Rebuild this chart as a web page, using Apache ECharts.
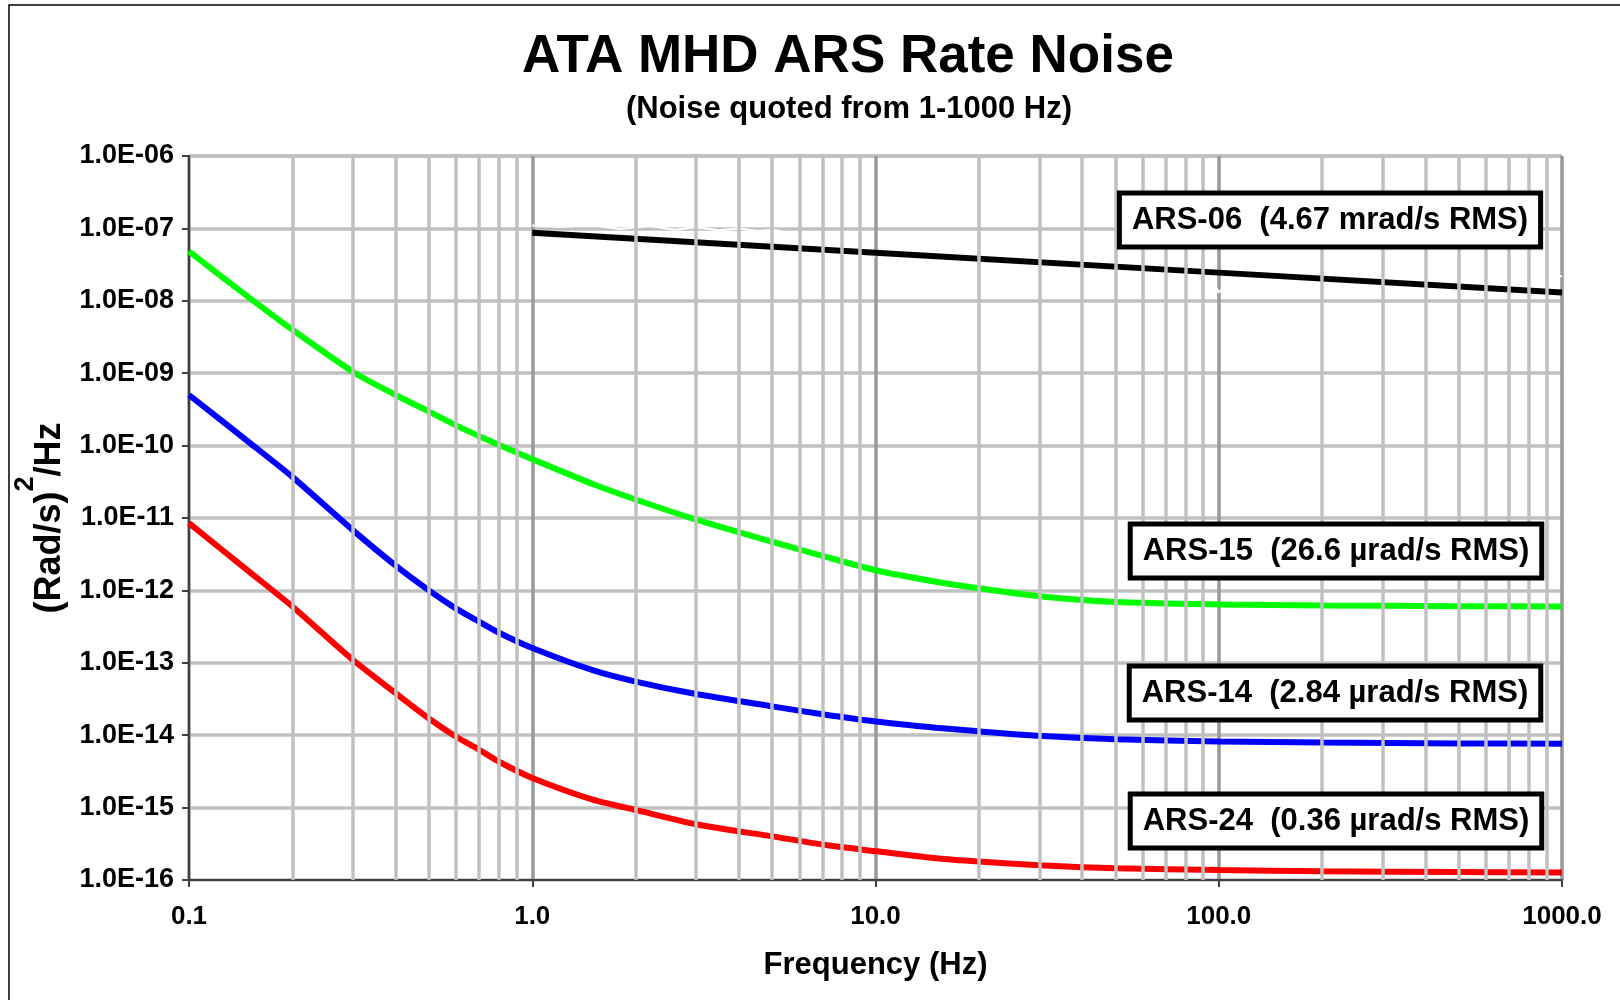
<!DOCTYPE html>
<html>
<head>
<meta charset="utf-8">
<title>ATA MHD ARS Rate Noise</title>
<script src="https://cdn.jsdelivr.net/npm/echarts@6/dist/echarts.min.js"></script>
<style>
  html, body { margin: 0; padding: 0; background: #fff; }
  #charts { width: 1620px; height: 1000px; }
</style>
</head>
<body>
<div id="charts"></div>
<script>
// frequencies (Hz)
const freq = [0.1, 0.15, 0.2, 0.3, 0.4, 0.5, 0.6, 0.7, 0.8, 1, 1.5, 2, 3, 5, 7, 10, 15, 20, 30, 50, 100, 200, 500, 1000];
const ars15 = [4.8e-8, 1.1e-8, 4.0e-9, 1.05e-9, 5.0e-10, 2.95e-10, 1.9e-10, 1.35e-10, 1.02e-10, 6.5e-11, 2.95e-11, 1.8e-11,
  9.5e-12, 4.7e-12, 3.0e-12, 1.9e-12, 1.32e-12, 1.07e-12, 8.3e-13, 6.9e-13, 6.4e-13, 6.2e-13, 6.05e-13, 6.0e-13];
const ars14 = [5.0e-10, 1.1e-10, 3.7e-11, 6.8e-12, 2.2e-12, 1.0e-12, 5.6e-13, 3.7e-13, 2.6e-13, 1.6e-13, 7.9e-14, 5.5e-14,
  3.7e-14, 2.5e-14, 1.95e-14, 1.55e-14, 1.27e-14, 1.13e-14, 9.8e-15, 8.8e-15, 8.2e-15, 7.9e-15, 7.7e-15, 7.6e-15];
const ars24 = [8.5e-12, 1.8e-12, 6.0e-13, 1.1e-13, 3.8e-14, 1.7e-14, 9.5e-15, 6.3e-15, 4.3e-15, 2.57e-15, 1.29e-15, 9.3e-16,
  5.9e-16, 4.0e-16, 3.1e-16, 2.5e-16, 2.0e-16, 1.8e-16, 1.6e-16, 1.45e-16, 1.37e-16, 1.32e-16, 1.29e-16, 1.27e-16];

const freq06 = [1, 10, 100, 1000];
const ars06 = [8.7e-8, 4.6e-8, 2.45e-8, 1.3e-8];

// raw measured trace (white, mostly hidden behind the grid)
const noiseFreq = [1, 1.2, 1.5, 1.8, 2.2, 2.6, 3, 3.5, 4, 4.5, 5, 5.5, 5.9, 6.3, 6.8, 7.3, 7.8, 8.4, 9, 9.6, 10,
  15, 20, 25, 30, 40, 50, 70, 96, 100, 110, 123, 150, 200, 250, 300, 400, 500, 600, 700, 800, 900, 1000];
const noiseVal = [1.1e-7, 1.05e-7, 1.1e-7, 9.8e-8, 1.08e-7, 9.6e-8, 1.04e-7, 9.4e-8, 1.0e-7, 9.2e-8, 9.6e-8, 8.8e-8,
  4.4e-8, 3.4e-8, 4.6e-8, 3.3e-8, 4.5e-8, 3.2e-8, 4.2e-8, 3.1e-8, 4.4e-8,
  3.0e-8, 2.7e-8, 3.1e-8, 2.6e-8, 2.9e-8, 2.5e-8, 2.8e-8, 1.9e-8, 1.3e-8, 2.1e-8, 1.6e-8, 2.0e-8, 1.85e-8, 1.6e-8,
  2.0e-8, 1.6e-8, 1.9e-8, 1.5e-8, 1.9e-8, 1.5e-8, 2.0e-8, 2.2e-8];

// minor vertical grid lines (2..9 of each decade)
const minorFreq = [];
[0.1, 1, 10, 100].forEach(function (d) {
  for (let k = 2; k <= 9; k++) minorFreq.push(+(d * k).toPrecision(3));
});

const labels = [
  { text: "ARS-06  (4.67 mrad/s RMS)", x: 1330, y: 220 },
  { text: "ARS-15  (26.6 µrad/s RMS)", x: 1336, y: 551 },
  { text: "ARS-14  (2.84 µrad/s RMS)", x: 1335, y: 693 },
  { text: "ARS-24  (0.36 µrad/s RMS)", x: 1336, y: 821 },
];

const FONT = '"Liberation Sans", Arial, sans-serif';

function pairs(xs, ys) {
  return xs.map(function (x, i) { return [x, ys[i]]; });
}

let myChart = echarts.init(document.getElementById("charts"), null, { renderer: "canvas" });

let option = {
  backgroundColor: "#fff",
  animation: false,
  textStyle: { fontFamily: FONT },
  grid: { left: 189, top: 156, right: 58, bottom: 120 },
  xAxis: {
    type: "log",
    logBase: 10,
    min: 0.1,
    max: 1000,
    interval: 1,
    name: "Frequency (Hz)",
    nameLocation: "middle",
    nameGap: 70,
    nameTextStyle: { fontSize: 31, fontWeight: "bold", color: "#000", fontFamily: FONT },
    axisLine: { show: true, lineStyle: { color: "#404040", width: 2 } },
    axisTick: { show: true, inside: false, length: 7, lineStyle: { color: "#404040", width: 2 } },
    axisLabel: {
      margin: 24,
      fontSize: 26,
      fontWeight: "bold",
      color: "#000",
      fontFamily: FONT,
      showMinLabel: true,
      showMaxLabel: true,
      formatter: function (v) { return Number(v).toFixed(1); },
    },
    splitLine: { show: true, lineStyle: { color: "#999999", width: 3.5 } },
  },
  yAxis: {
    type: "log",
    logBase: 10,
    min: 1e-16,
    max: 1e-6,
    interval: 1,
    name: "{a|(Rad/s)}{s|2}{a|/Hz}",
    nameLocation: "middle",
    nameRotate: 90,
    nameGap: 100,
    nameTextStyle: {
      color: "#000",
      rich: {
        a: { fontSize: 36, fontWeight: "bold", fontFamily: FONT, color: "#000", verticalAlign: "bottom", lineHeight: 56 },
        s: { fontSize: 27, fontWeight: "bold", fontFamily: FONT, color: "#000", verticalAlign: "top", lineHeight: 56 },
      },
    },
    axisLine: { show: true, lineStyle: { color: "#404040", width: 2 } },
    axisTick: { show: true, inside: false, length: 7, lineStyle: { color: "#404040", width: 2 } },
    axisLabel: {
      margin: 15,
      fontSize: 27,
      fontWeight: "bold",
      color: "#000",
      fontFamily: FONT,
      formatter: function (v) {
        let e = Math.round(Math.log10(v));
        return "1.0E" + (e < 0 ? "-" : "+") + String(Math.abs(e)).padStart(2, "0");
      },
    },
    splitLine: { show: true, lineStyle: { color: "#c0c0c0", width: 3.5 } },
  },
  graphic: [
    {
      type: "rect",
      silent: true,
      shape: { x: 9, y: 5, width: 1700, height: 1100 },
      style: { fill: null, stroke: "#000", lineWidth: 1.5 },
    },
    {
      type: "text",
      x: 848,
      y: 57,
      style: { text: "ATA MHD ARS Rate Noise", font: "bold 53px " + FONT, fill: "#000", align: "center", verticalAlign: "middle" },
    },
    {
      type: "text",
      x: 849,
      y: 109,
      style: { text: "(Noise quoted from 1-1000 Hz)", font: "bold 31px " + FONT, fill: "#000", align: "center", verticalAlign: "middle" },
    },
  ].concat(labels.map(function (l) {
    return {
      type: "text",
      x: l.x,
      y: l.y,
      z: 100,
      style: {
        text: l.text,
        font: "bold 31px " + FONT,
        fill: "#000",
        align: "center",
        verticalAlign: "middle",
        backgroundColor: "#fff",
        borderColor: "#000",
        borderWidth: 5,
        padding: [9, 10, 9, 10],
      },
    };
  })),
  series: [
    {
      // carries the minor grid lines
      type: "line",
      z: 1,
      data: [],
      silent: true,
      markLine: {
        silent: true,
        symbol: "none",
        animation: false,
        label: { show: false },
        lineStyle: { color: "#c0c0c0", width: 3.5, type: "solid" },
        data: minorFreq.map(function (f) { return { xAxis: f }; }),
      },
    },
    {
      name: "raw",
      type: "line",
      z: 2,
      data: pairs(noiseFreq, noiseVal),
      showSymbol: false,
      lineStyle: { color: "#ffffff", width: 2 },
    },
    {
      name: "ARS-06",
      type: "line",
      z: 3,
      data: pairs(freq06, ars06),
      showSymbol: false,
      lineStyle: { color: "#000000", width: 6 },
    },
    {
      name: "ARS-15",
      type: "line",
      z: 3,
      smooth: 0.25,
      data: pairs(freq, ars15),
      showSymbol: false,
      lineStyle: { color: "#00ff00", width: 6 },
    },
    {
      name: "ARS-14",
      type: "line",
      z: 3,
      smooth: 0.25,
      data: pairs(freq, ars14),
      showSymbol: false,
      lineStyle: { color: "#0000ff", width: 6 },
    },
    {
      name: "ARS-24",
      type: "line",
      z: 3,
      smooth: 0.25,
      data: pairs(freq, ars24),
      showSymbol: false,
      lineStyle: { color: "#ff0000", width: 6 },
    },
  ],
};

myChart.setOption(option);

window.addEventListener("resize", function () {
  myChart.resize();
});
</script>
</body>
</html>
